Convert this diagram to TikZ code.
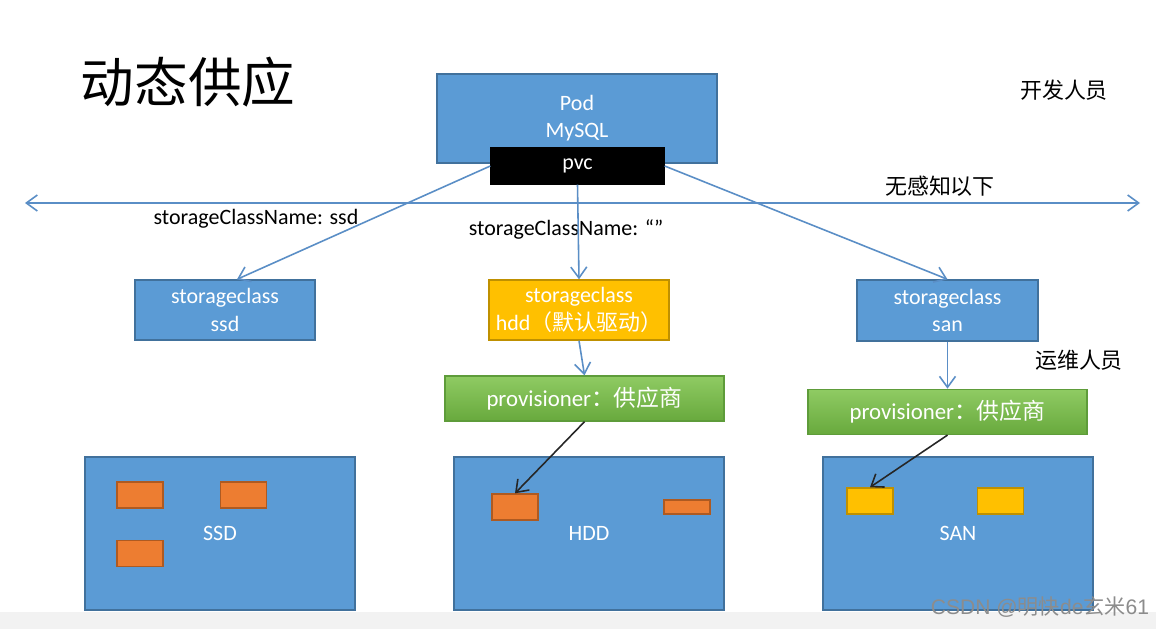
\documentclass[tikz,border=0pt]{standalone}
\usepackage{fontspec}
\setmainfont{Carlito}
\newfontfamily\cjk{Noto Sans CJK SC}
\newfontfamily\wmfont{Liberation Sans}
\usetikzlibrary{positioning}
\usetikzlibrary{arrows.meta}

\definecolor{boxblue}{HTML}{5B9BD5}
\definecolor{boxedge}{HTML}{41719C}
\definecolor{linkblue}{HTML}{5A8EC6}
\definecolor{hddyellow}{HTML}{FFC000}
\definecolor{hddedge}{HTML}{BF9000}
\definecolor{provtop}{HTML}{8FCB63}
\definecolor{provbottom}{HTML}{68A93D}
\definecolor{provedge}{HTML}{5E9C3A}
\definecolor{diskorange}{HTML}{ED7D31}
\definecolor{diskedge}{HTML}{AE5A21}

\tikzset{
  bluebox/.style={draw=boxedge,fill=boxblue,text=white,align=center,inner sep=0pt,line width=0.8pt,
    font=\fontsize{12.5}{15.5}\selectfont},
  yellowbox/.style={bluebox,draw=hddedge,fill=hddyellow},
  provbox/.style={bluebox,draw=provedge,top color=provtop,bottom color=provbottom,
    minimum width=5.58cm,minimum height=0.9cm,font=\fontsize{13}{15}\selectfont},
  disk/.style={draw=diskedge,fill=diskorange,line width=0.8pt,minimum width=0.92cm,minimum height=0.52cm,inner sep=0pt},
  sandisk/.style={disk,draw=hddedge,fill=hddyellow},
  link/.style={draw=linkblue,line width=0.9pt,-{Straight Barb[length=2.2mm,width=3.2mm]}},
  blacklink/.style={draw=black!85,line width=0.9pt,-{Straight Barb[length=2.2mm,width=3.2mm]}},
  label/.style={font=\fontsize{12.5}{15}\selectfont,inner sep=1pt}
}

\begin{document}
\begin{tikzpicture}[x=0.02cm,y=-0.02cm]
  \useasboundingbox (0,0) rectangle (1156,629);
  \fill[white] (0,0) rectangle (1156,629);
  \fill[black!5] (0,612) rectangle (1156,629);

  \node[font=\cjk\fontsize{30.5}{32}\selectfont, name=title] at (188,82) {动态供应};
  \node[label, font=\cjk\fontsize{12.5}{15}\selectfont, name=dev] at (1064,90) {开发人员};
  \node[label, font=\cjk\fontsize{12.5}{15}\selectfont, name=ops] at (1079,360) {运维人员};
  \node[label, font=\cjk\fontsize{12.5}{15}\selectfont, name=hidden] at (940,186) {无感知以下};

  % pod and its claim
  \node[bluebox, minimum width=5.6cm, minimum height=1.78cm, name=pod] at (577,118.5) {Pod\\MySQL};
  \node[bluebox, draw=black, fill=black, minimum width=3.46cm, minimum height=0.72cm, name=pvc] at (577.5,166) {pvc};

  % boundary
  \coordinate (leftend) at (25,203);
  \coordinate (rightend) at (1140,203);
  \draw[link, {Straight Barb[length=2.2mm,width=3.2mm]}-{Straight Barb[length=2.2mm,width=3.2mm]}] (leftend) -- (rightend);

  % storage classes
  \node[bluebox, minimum width=3.6cm, minimum height=1.2cm, name=ssdclass] at (225,310) {storageclass\\ssd};
  \node[yellowbox, minimum width=3.6cm, minimum height=1.2cm, name=hddclass] at (579,310) {storageclass\\hdd{\cjk（默认驱动）}};
  \node[bluebox, minimum width=3.62cm, minimum height=1.22cm, name=sanclass] at (947.5,310.5) {storageclass\\san};

  \node[label, name=ssdname] at (256,219) {storageClassName: ssd};
  \node[label, name=hddname] at (566,229) {storageClassName: “”};

  \draw[link] (pvc.west) -- ([xshift=0.24cm]ssdclass.north);
  \draw[link] (pvc.south) -- (hddclass.north);
  \draw[link] (pvc.east) -- (sanclass.north);

  % provisioners
  \node[provbox, name=hddprov] at (584.5,398.5) {provisioner{\cjk：供应商}};
  \node[provbox, name=sanprov, below=0.94cm of sanclass] {provisioner{\cjk：供应商}};
  \draw[link] (hddclass.south) -- (hddprov.north);
  \draw[link] (sanclass.south) -- (sanprov.north);

  % backends
  \node[bluebox, minimum width=5.4cm, minimum height=3.06cm, name=ssd] at (220,533.5) {SSD};
  \node[bluebox, minimum width=5.4cm, minimum height=3.06cm, name=hdd] at (589,533.5) {HDD};
  \node[bluebox, minimum width=5.4cm, minimum height=3.06cm, name=san] at (958,533.5) {SAN};

  \node[disk, name=ssda] at (140,495) {};
  \node[disk, name=ssdb, right=1.12cm of ssda] {};
  \node[disk, name=ssdc, below=0.62cm of ssda] {};
  \node[disk, name=hdda] at (515,507) {};
  \node[disk, minimum height=0.28cm, name=hddb] at (687,507) {};
  \node[sandisk, name=sana] at (870,501) {};
  \node[sandisk, name=sanb, right=1.66cm of sana] {};

  \draw[blacklink] (hddprov.south) -- (hdda.north);
  \draw[blacklink] (sanprov.south) -- (sana.north);

  \node[text=black!45, font=\wmfont\fontsize{12}{14}\selectfont, inner sep=1pt, name=mark] at (1040,607) {CSDN @{\cjk 明快}de{\cjk 玄米}61};
\end{tikzpicture}
\end{document}
